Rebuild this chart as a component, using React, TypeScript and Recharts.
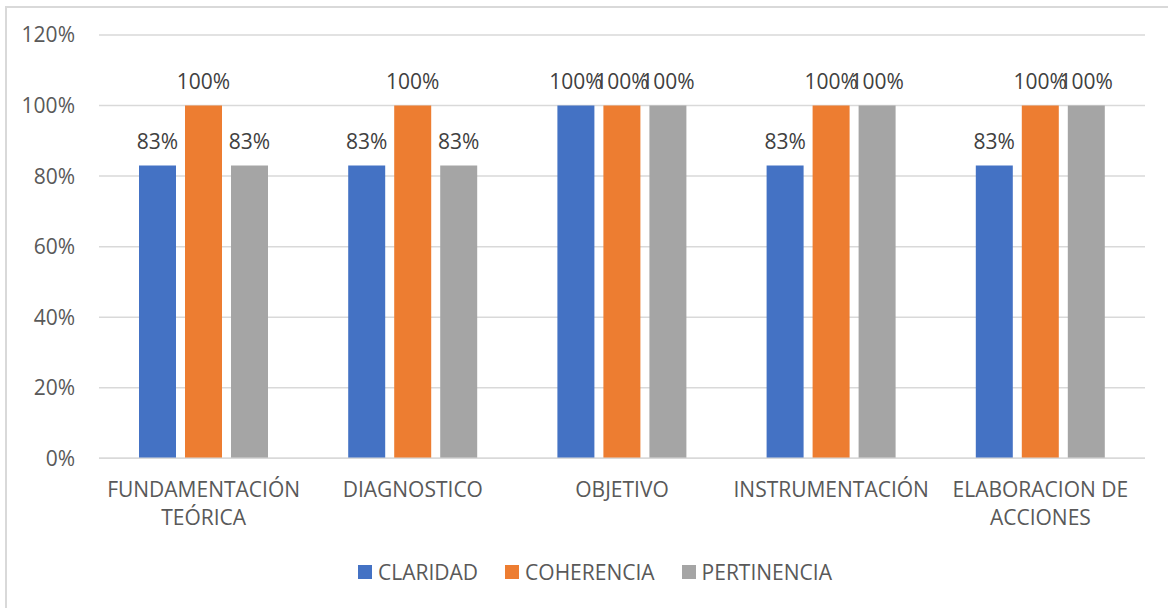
import React from 'react';
import { BarChart, Bar, XAxis, YAxis, CartesianGrid, Legend, LabelList } from 'recharts';

const categories = ['FUNDAMENTACIÓN\nTEÓRICA', 'DIAGNOSTICO', 'OBJETIVO', 'INSTRUMENTACIÓN', 'ELABORACION DE\nACCIONES'];
const claridad = [0.83, 0.83, 1, 0.83, 0.83];
const coherencia = [1, 1, 1, 1, 1];
const pertinencia = [0.83, 0.83, 1, 1, 1];
const yTicks = [0, 0.2, 0.4, 0.6, 0.8, 1, 1.2];

const seriesNames = ['CLARIDAD', 'COHERENCIA', 'PERTINENCIA'];
const seriesKeys = ['claridad', 'coherencia', 'pertinencia'];
const seriesColors = ['#4472C4', '#ED7D31', '#A5A5A5'];

const data = categories.map((c, i) => ({
  name: c,
  claridad: claridad[i],
  coherencia: coherencia[i],
  pertinencia: pertinencia[i],
}));

const FONT = '"Open Sans", sans-serif';
const FS = 21;
const pct = (v: number) => `${Math.round(v * 100)}%`;

const XTick = (props: any) => {
  const { x, y, payload } = props;
  const lines = String(payload.value).split('\n');
  return (
    <text x={x} y={y} textAnchor="middle" fill="#595959" fontSize={FS} fontFamily={FONT}>
      {lines.map((l, i) => (
        <tspan key={i} x={x} y={y + 39 + i * 28}>{l}</tspan>
      ))}
    </text>
  );
};

const LegendContent = () => (
  <div style={{ height: 30, paddingLeft: 45, display: 'flex', justifyContent: 'center', alignItems: 'center', fontFamily: FONT, fontSize: FS, color: '#595959' }}>
    {seriesNames.map((n, i) => (
      <div key={n} style={{ display: 'flex', alignItems: 'center', marginRight: i < 2 ? 27 : 0 }}>
        <span style={{ display: 'inline-block', width: 14, height: 14, background: seriesColors[i], marginRight: 6 }} />
        <span>{n}</span>
      </div>
    ))}
  </div>
);

export default function App() {
  return (
    <div style={{ position: 'absolute', left: 0, top: 0, width: 1168, height: 608, background: '#fff', overflow: 'hidden' }}>
      <div style={{ position: 'absolute', left: 5, top: 6, width: 1163, height: 602, borderLeft: '2px solid #d9d9d9', borderTop: '2px solid #d9d9d9', boxSizing: 'border-box' }} />
      <BarChart
        width={1168}
        height={608}
        data={data}
        margin={{ top: 35, right: 23, left: 0, bottom: 21 }}
        barSize={37}
        barGap={9}
      >
        <CartesianGrid vertical={false} stroke="#d9d9d9" strokeWidth={1.5} />
        <XAxis
          dataKey="name"
          interval={0}
          height={98.7}
          tickLine={false}
          tickSize={0}
          tickMargin={0}
          axisLine={{ stroke: '#d9d9d9', strokeWidth: 1.5 }}
          tick={<XTick />}
        />
        <YAxis
          width={99}
          domain={[0, 1.2]}
          ticks={yTicks}
          tickFormatter={pct}
          axisLine={false}
          tickLine={false}
          tickSize={0}
          tickMargin={24}
          tick={{ fill: '#595959', fontSize: FS, fontFamily: FONT }}
        />
        <Legend verticalAlign="bottom" content={<LegendContent />} />
        {seriesKeys.map((k, i) => (
          <Bar key={k} dataKey={k} name={seriesNames[i]} fill={seriesColors[i]} isAnimationActive={false}>
            <LabelList dataKey={k} position="top" offset={17} formatter={(v: any) => pct(Number(v))} fill="#404040" fontSize={FS} fontFamily={FONT} />
          </Bar>
        ))}
      </BarChart>
    </div>
  );
}
